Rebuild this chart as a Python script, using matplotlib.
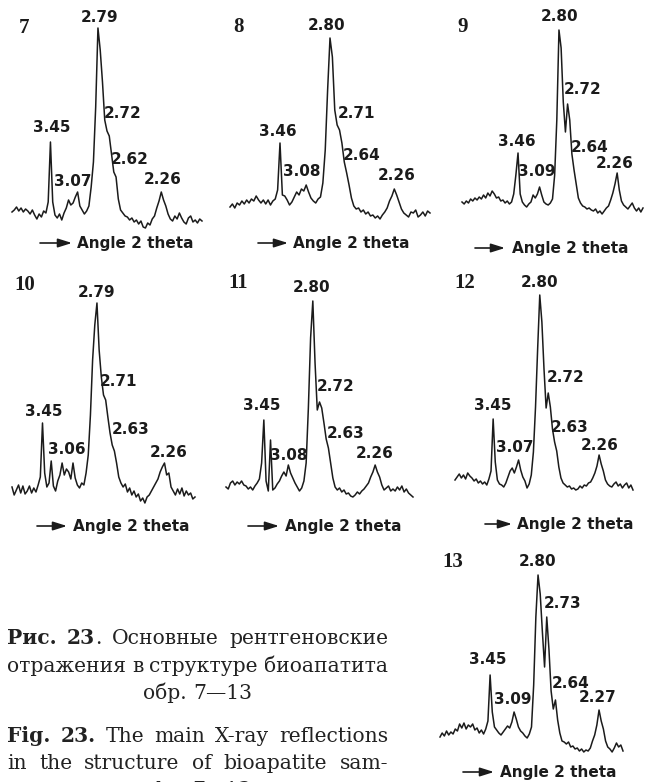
import matplotlib
matplotlib.use("Agg")
import matplotlib.pyplot as plt
from matplotlib.patches import FancyArrowPatch

# ---- data ----
sample_ids = ["7", "8", "9", "10", "11", "12", "13"]

# diffraction intensity (arbitrary units), 85 evenly spaced 2-theta steps per sample
trace_7 = [20, 22, 25, 21, 24, 20, 23, 21, 18, 22,
           17, 13, 18, 15, 21, 19, 30, 90, 30, 17,
           14, 18, 12, 19, 24, 32, 27, 29, 35, 40,
           26, 22, 18, 21, 26, 45, 70, 125, 204, 182,
           150, 112, 101, 96, 78, 60, 55, 33, 22, 19,
           16, 15, 12, 14, 10, 12, 8, 11, 5, 4,
           9, 7, 13, 16, 24, 31, 40, 32, 26, 18,
           13, 11, 16, 13, 19, 14, 10, 8, 14, 16,
           10, 12, 9, 13, 11]
trace_8 = [18, 21, 17, 22, 20, 24, 21, 25, 22, 26,
           24, 29, 25, 22, 25, 21, 25, 20, 24, 26,
           35, 82, 30, 29, 25, 20, 23, 28, 33, 30,
           36, 34, 40, 33, 27, 24, 22, 26, 28, 42,
           75, 135, 187, 168, 115, 100, 95, 82, 63, 52,
           40, 27, 19, 16, 17, 13, 15, 11, 13, 9,
           10, 7, 9, 6, 10, 13, 17, 24, 29, 36,
           30, 23, 16, 12, 10, 8, 13, 12, 15, 8,
           10, 13, 9, 14, 12]
trace_9 = [18, 16, 19, 17, 21, 19, 22, 20, 23, 21,
           25, 22, 27, 24, 29, 26, 22, 23, 19, 20,
           17, 19, 16, 18, 26, 45, 67, 26, 18, 15,
           13, 16, 18, 25, 22, 26, 33, 25, 18, 16,
           15, 17, 21, 45, 100, 190, 172, 118, 88, 116,
           100, 66, 50, 36, 22, 17, 14, 13, 11, 12,
           10, 9, 11, 7, 9, 6, 9, 12, 14, 20,
           27, 36, 47, 30, 19, 15, 13, 11, 14, 17,
           12, 9, 12, 8, 12]
trace_10 = [18, 10, 15, 20, 12, 19, 11, 14, 19, 12,
            17, 13, 20, 28, 82, 32, 18, 22, 44, 19,
            14, 24, 30, 42, 30, 36, 33, 26, 42, 27,
            20, 17, 22, 20, 32, 50, 90, 145, 180, 202,
            155, 128, 110, 105, 88, 72, 60, 54, 42, 28,
            22, 18, 21, 13, 17, 10, 14, 8, 11, 4,
            7, 2, 8, 10, 14, 18, 22, 26, 33, 38,
            42, 30, 32, 18, 14, 10, 16, 11, 17, 9,
            14, 10, 12, 6, 8]
trace_11 = [16, 14, 20, 22, 18, 21, 19, 22, 18, 17,
            14, 16, 13, 17, 20, 24, 40, 83, 22, 12,
            63, 13, 15, 19, 22, 27, 31, 27, 38, 30,
            25, 20, 16, 12, 15, 22, 40, 95, 165, 202,
            140, 93, 101, 95, 80, 64, 55, 40, 25, 16,
            13, 15, 11, 13, 9, 10, 7, 6, 8, 11,
            9, 12, 14, 17, 20, 26, 31, 38, 31, 26,
            18, 13, 15, 17, 12, 14, 12, 16, 13, 17,
            11, 14, 10, 8, 6]
trace_12 = [17, 20, 23, 19, 22, 18, 24, 21, 19, 16,
            18, 14, 16, 13, 15, 12, 18, 26, 78, 35,
            17, 13, 12, 10, 14, 20, 26, 29, 24, 30,
            37, 27, 20, 16, 9, 13, 22, 45, 90, 148,
            202, 175, 128, 89, 104, 90, 68, 55, 46, 30,
            19, 14, 12, 10, 11, 8, 9, 7, 8, 11,
            9, 12, 11, 14, 15, 19, 24, 31, 42, 33,
            26, 17, 13, 11, 10, 13, 15, 11, 13, 9,
            12, 14, 9, 12, 7]
trace_13 = [20, 24, 21, 26, 22, 25, 23, 28, 26, 33,
            29, 34, 28, 32, 30, 33, 27, 29, 24, 27,
            23, 28, 36, 82, 45, 30, 27, 24, 22, 25,
            28, 31, 29, 35, 45, 38, 30, 26, 24, 21,
            19, 23, 30, 72, 140, 182, 163, 125, 90, 140,
            108, 66, 48, 57, 37, 24, 16, 15, 13, 15,
            10, 11, 8, 9, 6, 8, 5, 7, 6, 9,
            16, 22, 32, 47, 36, 28, 16, 10, 8, 5,
            9, 14, 10, 12, 6]

# d-spacings (A) written over the reflections, and the step where each one sits
d_7 = ["2.79", "3.45", "3.07", "2.72", "2.62", "2.26"]
d_8 = ["2.80", "3.46", "3.08", "2.71", "2.64", "2.26"]
d_9 = ["2.80", "3.46", "3.09", "2.72", "2.64", "2.26"]
d_10 = ["2.79", "3.45", "3.06", "2.71", "2.63", "2.26"]
d_11 = ["2.80", "3.45", "3.08", "2.72", "2.63", "2.26"]
d_12 = ["2.80", "3.45", "3.07", "2.72", "2.63", "2.26"]
d_13 = ["2.80", "3.45", "3.09", "2.73", "2.64", "2.27"]

peak_7 = [38, 17, 29, 42, 46, 66]
peak_8 = [42, 21, 32, 45, 49, 69]
peak_9 = [45, 26, 36, 49, 52, 72]
peak_10 = [39, 14, 28, 43, 47, 70]
peak_11 = [39, 17, 28, 42, 46, 67]
peak_12 = [40, 18, 30, 44, 47, 68]
peak_13 = [45, 23, 34, 49, 53, 73]

axis_label = "Angle 2 theta"
caption_ru = ["Рис. 23. Основные рентгеновские", "отражения в структуре биоапатита", "обр. 7—13"]
caption_en = ["Fig. 23. The main X-ray reflections", "in the structure of bioapatite sam-", "ples 7—13"]

# ---- layout (pixels of the 652x782 page) ----
W, H = 652, 782
INK = "#1b1b1b"
PANEL_H = 210

layout = {
    "7":  dict(box=(12, 202, 232), num=(24, 28), arrow=(40, 72, 243), text_x=77,
               offs=[(2, 10), (1, 14), (-5, 10), (16, 18), (14, 17), (1, 12)]),
    "8":  dict(box=(230, 430, 225), num=(238, 27), arrow=(258, 288, 243), text_x=293,
               offs=[(-3, 13), (-2, 12), (-4, 14), (19, 12), (15, 17), (2, 14)]),
    "9":  dict(box=(462, 643, 220), num=(463, 27), arrow=(475, 505, 248), text_x=512,
               offs=[(1, 13), (-1, 11), (-3, 15), (15, 14), (16, 23), (-2, 10)]),
    "10": dict(box=(12, 195, 505), num=(25, 285), arrow=(37, 67, 526), text_x=73,
               offs=[(0, 10), (1, 11), (-6, 13), (13, 18), (16, 21), (4, 10)]),
    "11": dict(box=(226, 413, 503), num=(238, 283), arrow=(248, 279, 526), text_x=285,
               offs=[(-1, 13), (-2, 14), (0, 10), (16, 15), (17, 14), (0, 12)]),
    "12": dict(box=(455, 633, 497), num=(465, 283), arrow=(485, 512, 524), text_x=517,
               offs=[(0, 12), (0, 14), (-4, 13), (17, 15), (15, 15), (1, 10)]),
    "13": dict(box=(440, 623, 757), num=(453, 562), arrow=(463, 494, 772), text_x=500,
               offs=[(0, 14), (-2, 15), (-1, 12), (16, 14), (15, 17), (-1, 13)]),
}

traces = [trace_7, trace_8, trace_9, trace_10, trace_11, trace_12, trace_13]
d_labels = [d_7, d_8, d_9, d_10, d_11, d_12, d_13]
peaks = [peak_7, peak_8, peak_9, peak_10, peak_11, peak_12, peak_13]


def fx(x):
    return x / W


def fy(y):
    return 1 - y / H


fig = plt.figure(figsize=(W / 100, H / 100), dpi=100)
fig.patch.set_facecolor("white")

for sid, trace, labs, pk in zip(sample_ids, traces, d_labels, peaks):
    lay = layout[sid]
    x0, x1, base = lay["box"]
    ax = fig.add_axes([fx(x0), fy(base), (x1 - x0) / W, PANEL_H / H])
    ax.set_xlim(0, len(trace) - 1)
    ax.set_ylim(0, PANEL_H)
    ax.axis("off")
    ax.plot(range(len(trace)), trace, color=INK, lw=1.1, clip_on=False)

    for lab, i, (dx, dy) in zip(labs, pk, lay["offs"]):
        ax.annotate(lab, xy=(i, trace[i]), xytext=(dx, dy), textcoords="offset pixels",
                    ha="center", va="center", fontsize=11, fontweight="bold",
                    family="DejaVu Sans", color=INK)

    nx, ny = lay["num"]
    fig.text(fx(nx), fy(ny), sid, ha="center", va="center", family="Liberation Serif",
             fontweight="bold", fontsize=15, color=INK)

    a0, a1, ay = lay["arrow"]
    fig.add_artist(FancyArrowPatch((fx(a0), fy(ay)), (fx(a1), fy(ay)), transform=fig.transFigure,
                                   arrowstyle="-|>,head_length=0.7,head_width=0.22", mutation_scale=12,
                                   shrinkA=0, shrinkB=0, lw=1.2, color=INK))
    fig.text(fx(lay["text_x"]), fy(ay), axis_label, ha="left", va="center", family="DejaVu Sans",
             fontweight="bold", fontsize=11, color=INK)

# ---- caption, justified like the printed page ----
renderer = fig.canvas.get_renderer()
CAP_LEFT, CAP_RIGHT = 7, 388


def text_width(s, size, weight="normal"):
    t = fig.text(0, 0, s, family="DejaVu Serif", fontweight=weight, fontsize=size)
    w = t.get_window_extent(renderer).width
    t.remove()
    return w


# font size chosen so the second Russian line fills the column with plain spaces
CAP_SIZE = 10 * (CAP_RIGHT - CAP_LEFT) / text_width(caption_ru[1], 10)


def split_words(line, bold_prefix):
    words, pos = [], 0
    for wd in line.split(" "):
        cut = min(max(len(bold_prefix) - pos, 0), len(wd))
        segs = []
        if cut:
            segs.append((wd[:cut], "bold"))
        if cut < len(wd):
            segs.append((wd[cut:], "normal"))
        words.append(segs)
        pos += len(wd) + 1
    return words


def caption_line(line, baseline, bold_prefix="", justify=True):
    words = split_words(line, bold_prefix)
    placed = []
    for segs in words:
        row = []
        for txt, wt in segs:
            t = fig.text(0, fy(baseline), txt, family="DejaVu Serif", fontweight=wt,
                         fontsize=CAP_SIZE, color="#222222", va="baseline", ha="left")
            row.append((t, t.get_window_extent(renderer).width))
        placed.append(row)
    widths = [sum(w for _, w in row) for row in placed]
    space = text_width("a b", CAP_SIZE) - text_width("ab", CAP_SIZE)
    if justify and len(words) > 1:
        gap = (CAP_RIGHT - CAP_LEFT - sum(widths)) / (len(words) - 1)
        x = CAP_LEFT
    else:
        gap = space
        total = sum(widths) + gap * (len(words) - 1)
        x = (CAP_LEFT + CAP_RIGHT) / 2 - total / 2
    for row in placed:
        for t, w in row:
            t.set_x(fx(x))
            x += w
        x += gap


caption_line(caption_ru[0], 644, bold_prefix="Рис. 23")
caption_line(caption_ru[1], 672)
caption_line(caption_ru[2], 699, justify=False)
caption_line(caption_en[0], 742, bold_prefix="Fig. 23.")
caption_line(caption_en[1], 769)
caption_line(caption_en[2], 796, justify=False)

fig.savefig("out.png", dpi=100, facecolor="white")
